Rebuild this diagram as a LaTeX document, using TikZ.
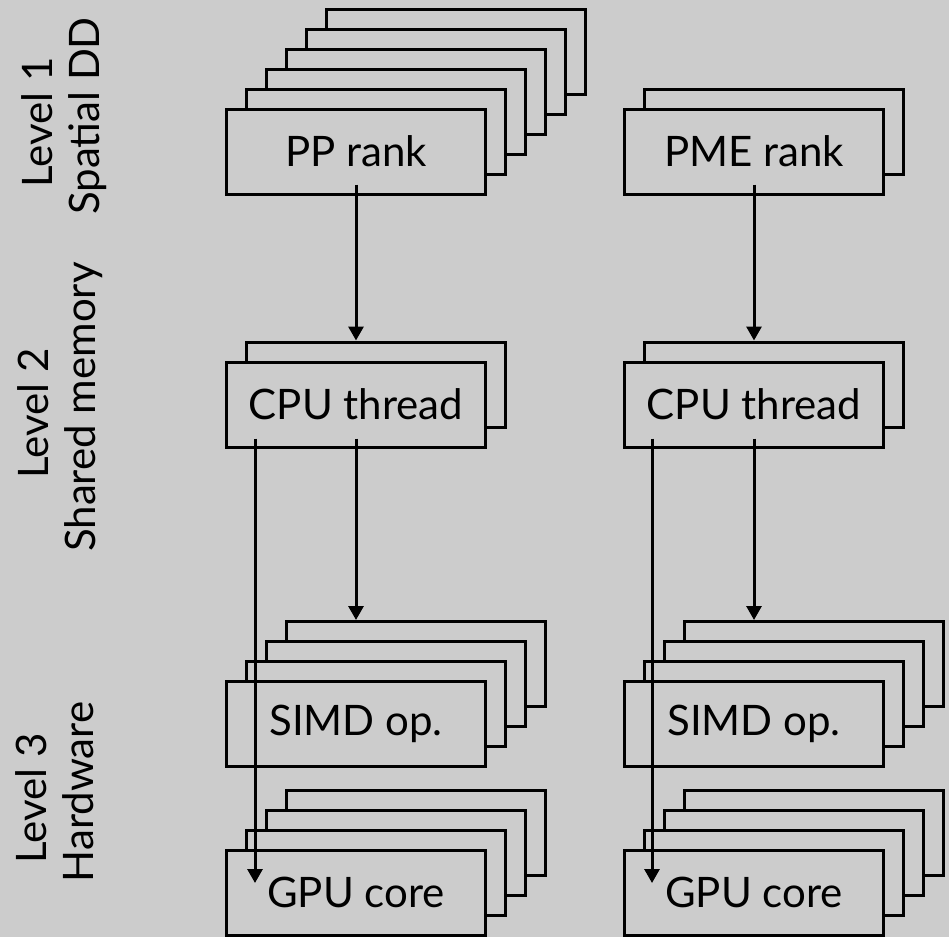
\documentclass[tikz,border=0pt]{standalone}
\usepackage{fontspec}
\setmainfont{Lato}
\usetikzlibrary{arrows.meta}
\definecolor{bg}{RGB}{204,204,204}
\begin{document}
\begin{tikzpicture}[x=1pt,y=-1pt,
  box/.style={draw, line width=3pt, fill=bg, minimum width=259pt, minimum height=85pt, inner sep=0pt, font=\fontsize{42}{50}\selectfont},
  arr/.style={line width=3pt, -{Triangle[length=14pt,width=15pt]}},
  lbl/.style={rotate=90, align=center, font=\fontsize{42}{47}\selectfont, inner sep=0pt}]
\fill[bg] (0,0) rectangle (949,937);
\useasboundingbox (0,0) rectangle (949,937);
% labels
\node[lbl] (l1) at (64,116) {Level 1\kern0.3em\\Spatial DD};
\node[lbl] (l2) at (60,407) {Level 2\kern0.3em\\Shared memory};
\node[lbl] (l3) at (55,792) {Level 3\kern0.3em\\Hardware};
% PP rank stack
\foreach \i in {5,4,...,1} \node[box] (pp\i) at (356+20*\i,151.5-20*\i) {};
\node[box] (pp) at (356,151.5) {PP rank};
% PME rank stack
\node[box] (pme1) at (774,131.5) {};
\node[box] (pme) at (754,151.5) {PME rank};
% CPU thread stacks
\node[box] (cpuA1) at (376,384.5) {};
\node[box] (cpuA) at (356,404.5) {CPU thread};
\node[box] (cpuB1) at (774,384.5) {};
\node[box] (cpuB) at (754,404.5) {CPU thread};
% SIMD stacks
\foreach \i in {3,2,1} {
  \node[box] (simdA\i) at (356+20*\i,724-20*\i) {};
  \node[box] (simdB\i) at (754+20*\i,724-20*\i) {};
}
\node[box] (simdA) at (356,724) {SIMD op.};
\node[box] (simdB) at (754,724) {SIMD op.};
% GPU stacks
\foreach \i in {3,2,1} {
  \node[box] (gpuA\i) at (356+20*\i,892.5-20*\i) {};
  \node[box] (gpuB\i) at (754+20*\i,892.5-20*\i) {};
}
\node[box] (gpuA) at (356,892.5) {GPU core};
\node[box] (gpuB) at (754,892.5) {GPU core};
% arrows
\draw[arr] ([yshift=11pt]pp.south) -- (pp.south |- cpuA1.north);
\draw[arr] ([yshift=11pt]pme.south) -- (pme.south |- cpuB1.north);
\draw[arr] ([yshift=10pt]cpuA.south) -- (cpuA.south |- simdA3.north);
\draw[arr] ([yshift=10pt]cpuB.south) -- (cpuB.south |- simdB3.north);
\draw[arr] ([xshift=-101pt,yshift=10pt]cpuA.south) -- ([xshift=-101pt,yshift=9.5pt]gpuA.center);
\draw[arr] ([xshift=-102pt,yshift=10pt]cpuB.south) -- ([xshift=-102pt,yshift=9.5pt]gpuB.center);
\end{tikzpicture}
\end{document}
